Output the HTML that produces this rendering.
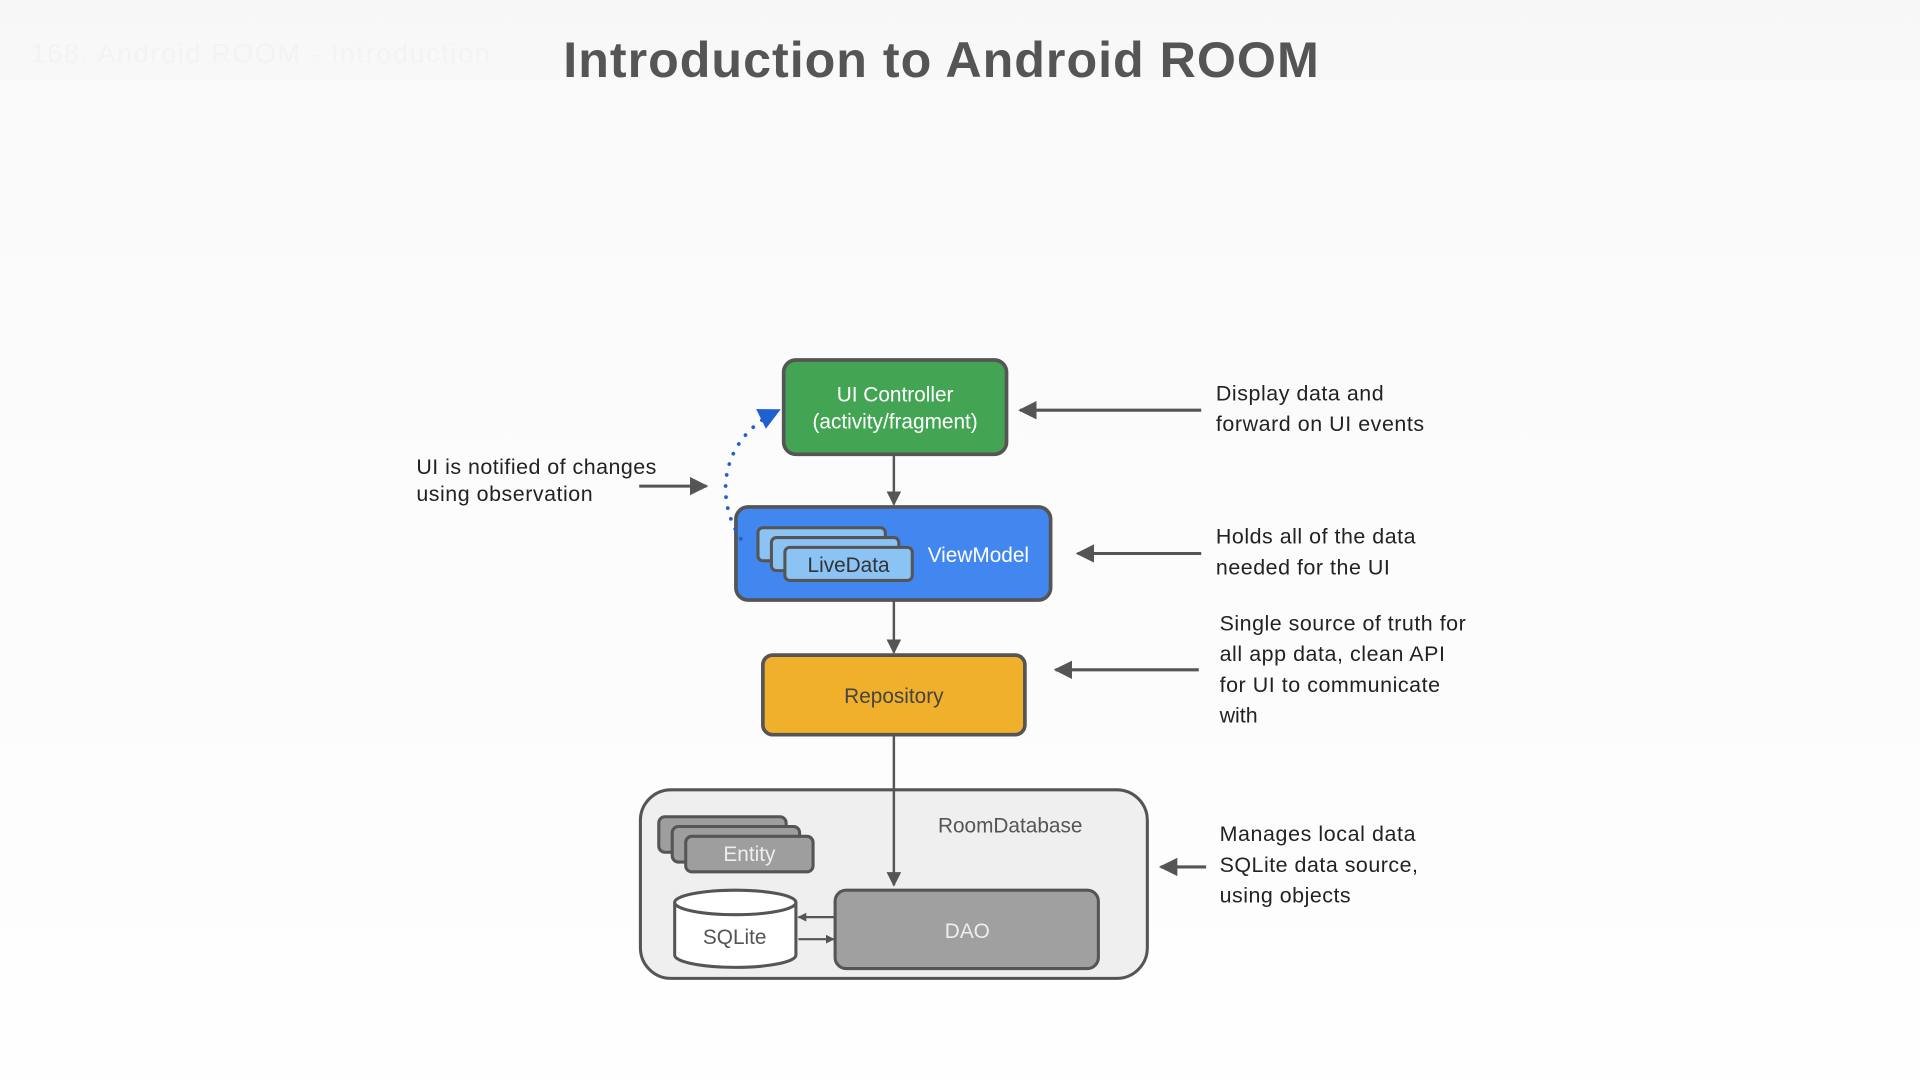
<!DOCTYPE html>
<html><head><meta charset="utf-8"><style>
html,body{margin:0;padding:0;width:1920px;height:1080px;overflow:hidden;background:#fdfdfd}
svg{display:block}
text{font-family:"Liberation Sans",sans-serif}
</style></head><body>
<svg width="1920" height="1080" viewBox="0 0 1568 882" xmlns="http://www.w3.org/2000/svg">
<defs>
<linearGradient id="bg" x1="0" y1="0" x2="0" y2="1">
<stop offset="0" stop-color="#f7f7f7"/><stop offset="0.12" stop-color="#fafafa"/><stop offset="1" stop-color="#fefefe"/>
</linearGradient>
<marker id="ah" viewBox="0 0 10 10" refX="9" refY="5" markerWidth="6" markerHeight="6" orient="auto"><path d="M0,0 L10,5 L0,10 z" fill="#555"/></marker>
<marker id="ahs" viewBox="0 0 10 10" refX="9" refY="5" markerWidth="4" markerHeight="4" orient="auto"><path d="M0,0 L10,5 L0,10 z" fill="#555"/></marker>
<marker id="ahb" viewBox="0 0 10 10" refX="9" refY="5" markerWidth="6" markerHeight="6" orient="auto"><path d="M0,0 L10,5 L0,10 z" fill="#1f5fcf"/></marker>
</defs>
<rect width="1568" height="882" fill="url(#bg)"/>
<text x="25" y="51" font-size="22" fill="#f3f3f3" textLength="375">168. Android ROOM - Introduction</text>
<text x="460" y="63" font-size="41" font-weight="bold" fill="#555" textLength="617">Introduction to Android ROOM</text>

<rect x="640" y="294" width="182" height="77" rx="10" fill="#43a554" stroke="#555" stroke-width="3"/>
<text x="731" y="328" font-size="17" fill="#fff" text-anchor="middle">UI Controller</text>
<text x="731" y="350" font-size="17" fill="#fff" text-anchor="middle">(activity/fragment)</text>
<line x1="730" y1="372" x2="730" y2="412" stroke="#555" stroke-width="2" marker-end="url(#ah)"/>

<rect x="601" y="414" width="257" height="76" rx="10" fill="#4286f0" stroke="#555" stroke-width="3"/>
<rect x="619" y="431" width="104" height="27" rx="4" fill="#8cc3f5" stroke="#555" stroke-width="2.5"/>
<rect x="630" y="439" width="104" height="27" rx="4" fill="#8cc3f5" stroke="#555" stroke-width="2.5"/>
<rect x="641" y="447" width="104" height="27" rx="4" fill="#8cc3f5" stroke="#555" stroke-width="2.5"/>
<text x="693" y="467" font-size="17" fill="#333" text-anchor="middle">LiveData</text>
<text x="799" y="459" font-size="17" fill="#fff" text-anchor="middle">ViewModel</text>
<line x1="730" y1="491" x2="730" y2="533" stroke="#555" stroke-width="2" marker-end="url(#ah)"/>

<rect x="623" y="535" width="214" height="65" rx="8" fill="#f0b02c" stroke="#555" stroke-width="3"/>
<text x="730" y="574" font-size="17" fill="#444" text-anchor="middle">Repository</text>

<rect x="523" y="645" width="414" height="154" rx="25" fill="#efefef" stroke="#555" stroke-width="2.5"/>
<text x="825" y="680" font-size="17" fill="#555" text-anchor="middle">RoomDatabase</text>
<line x1="730" y1="601" x2="730" y2="723" stroke="#555" stroke-width="2" marker-end="url(#ah)"/>
<rect x="538" y="667" width="104" height="29" rx="5" fill="#9e9e9e" stroke="#555" stroke-width="2.5"/>
<rect x="549" y="675" width="104" height="29" rx="5" fill="#9e9e9e" stroke="#555" stroke-width="2.5"/>
<rect x="560" y="683" width="104" height="29" rx="5" fill="#9e9e9e" stroke="#555" stroke-width="2.5"/>
<text x="612" y="703" font-size="17" fill="#eee" text-anchor="middle">Entity</text>
<path d="M551,737 L551,780 A49.5,10 0 0 0 650,780 L650,737" fill="#fff" stroke="#555" stroke-width="2.5"/>
<ellipse cx="600.5" cy="737" rx="49.5" ry="10" fill="#fff" stroke="#555" stroke-width="2.5"/>
<text x="600" y="771" font-size="17" fill="#555" text-anchor="middle">SQLite</text>
<rect x="682" y="727" width="215" height="64" rx="9" fill="#a0a0a0" stroke="#555" stroke-width="2.5"/>
<text x="790" y="766" font-size="17" fill="#eee" text-anchor="middle">DAO</text>
<line x1="681" y1="749" x2="652" y2="749" stroke="#555" stroke-width="1.8" marker-end="url(#ahs)"/>
<line x1="652" y1="767" x2="681" y2="767" stroke="#555" stroke-width="1.8" marker-end="url(#ahs)"/>

<g font-size="17.5" fill="#222">
<line x1="981" y1="335" x2="833" y2="335" stroke="#555" stroke-width="2.5" marker-end="url(#ah)"/>
<text x="993" y="327" textLength="137">Display data and</text>
<text x="993" y="352" textLength="170">forward on UI events</text>
<line x1="981" y1="452" x2="880" y2="452" stroke="#555" stroke-width="2.5" marker-end="url(#ah)"/>
<text x="993" y="444" textLength="163">Holds all of the data</text>
<text x="993" y="469" textLength="142">needed for the UI</text>
<line x1="979" y1="547" x2="862" y2="547" stroke="#555" stroke-width="2.5" marker-end="url(#ah)"/>
<text x="996" y="515" textLength="201">Single source of truth for</text>
<text x="996" y="540" textLength="184">all app data, clean API</text>
<text x="996" y="565" textLength="180">for UI to communicate</text>
<text x="996" y="590">with</text>
<line x1="985" y1="708" x2="948" y2="708" stroke="#555" stroke-width="2.5" marker-end="url(#ah)"/>
<text x="996" y="687" textLength="160">Manages local data</text>
<text x="996" y="712" textLength="162">SQLite data source,</text>
<text x="996" y="737" textLength="107">using objects</text>
<text x="340" y="387" textLength="196">UI is notified of changes</text>
<text x="340" y="409" textLength="144">using observation</text>
<line x1="522" y1="397" x2="577" y2="397" stroke="#555" stroke-width="2.5" marker-end="url(#ah)"/>
</g>
<path d="M605,440 C585,410 585,360 636,335" fill="none" stroke="#1f5fcf" stroke-width="3" stroke-dasharray="0.1 9" stroke-linecap="round" marker-end="url(#ahb)"/>
</svg>
</body></html>
